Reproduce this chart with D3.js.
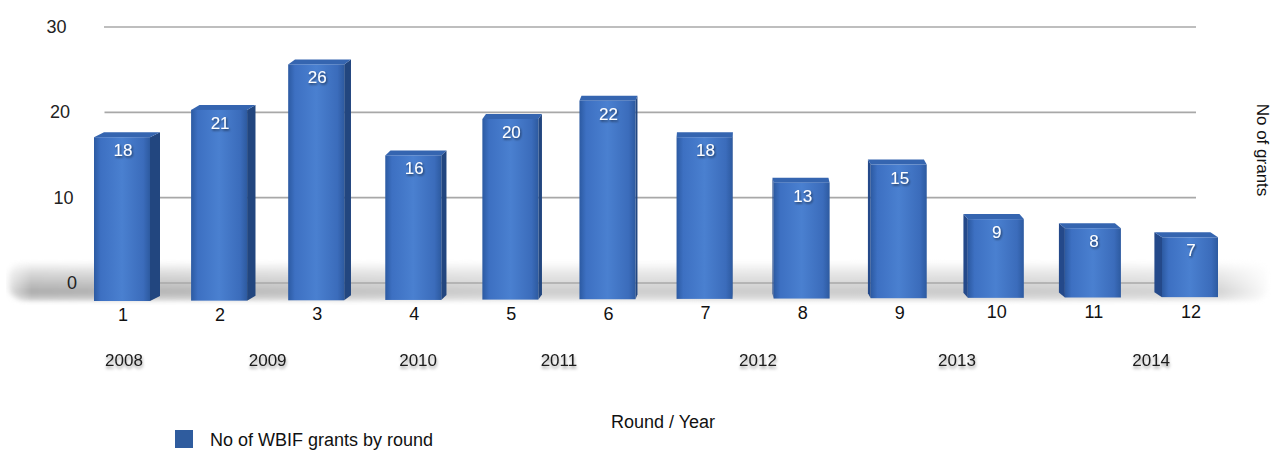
<!DOCTYPE html>
<html>
<head>
<meta charset="utf-8">
<script src="https://cdn.jsdelivr.net/npm/d3@7"></script>
<style>
  html, body { margin: 0; padding: 0; background: #fff; }
  svg { display: block; font-family: "Liberation Sans", Arial, sans-serif; }
</style>
</head>
<body>
<svg id="chart" width="1277" height="450"></svg>
<script>
// Grants awarded per funding round
const rounds = ["1", "2", "3", "4", "5", "6", "7", "8", "9", "10", "11", "12"];
const grants = [18, 21, 26, 16, 20, 22, 18, 13, 15, 9, 8, 7];
const years = ["2008", "2009", "2010", "2011", "2012", "2013", "2014"];
const yearAnchor = [1.02, 2.5, 4.05, 5.5, 7.55, 9.6, 11.6]; // position along the round axis
const yTicks = [0, 10, 20, 30];

const svg = d3.select("#chart");
const defs = svg.append("defs");

// Scales
const x = d3.scalePoint().domain(rounds).range([122, 1190]);
const xPos = d3.scaleLinear().domain([1, 12]).range([122, 1190]);
const yGrid = d3.scaleLinear().domain([0, 30]).range([283, 27]);
const yBar = d3.scaleLinear().domain([0, 30]).range([301, 28]);

// Gradients / filters
const faceGrad = defs.append("linearGradient").attr("id", "face").attr("x1", 0).attr("x2", 1);
faceGrad.append("stop").attr("offset", "0%").attr("stop-color", "#2c5aa2");
faceGrad.append("stop").attr("offset", "12%").attr("stop-color", "#3d70c2");
faceGrad.append("stop").attr("offset", "50%").attr("stop-color", "#4a80d0");
faceGrad.append("stop").attr("offset", "88%").attr("stop-color", "#3b6cbb");
faceGrad.append("stop").attr("offset", "100%").attr("stop-color", "#2d5aa0");

const txtShadow = defs.append("filter").attr("id", "txtShadow")
  .attr("x", "-20%").attr("y", "-30%").attr("width", "140%").attr("height", "160%");
txtShadow.append("feDropShadow").attr("dx", 1).attr("dy", 1.5)
  .attr("stdDeviation", 1).attr("flood-color", "#000").attr("flood-opacity", 0.55);

const softShadow = defs.append("filter").attr("id", "softShadow")
  .attr("x", "-20%").attr("y", "-40%").attr("width", "140%").attr("height", "200%");
softShadow.append("feDropShadow").attr("dx", 0.5).attr("dy", 2.5)
  .attr("stdDeviation", 1.6).attr("flood-color", "#000").attr("flood-opacity", 0.4);

// Floor shadow: darkens toward its lower edge, strongest on the left
const floorV = defs.append("linearGradient").attr("id", "floorV")
  .attr("x1", 0).attr("x2", 0).attr("y1", 0).attr("y2", 1);
floorV.append("stop").attr("offset", "0%").attr("stop-color", "#fff");
floorV.append("stop").attr("offset", "30%").attr("stop-color", "#d9d9d9");
floorV.append("stop").attr("offset", "78%").attr("stop-color", "#ababab");
floorV.append("stop").attr("offset", "100%").attr("stop-color", "#d6d6d6");

const floorH = defs.append("linearGradient").attr("id", "floorH").attr("x1", 0).attr("x2", 1);
floorH.append("stop").attr("offset", "0%").attr("stop-color", "#fff").attr("stop-opacity", 0.3);
floorH.append("stop").attr("offset", "2%").attr("stop-color", "#fff").attr("stop-opacity", 1);
floorH.append("stop").attr("offset", "12%").attr("stop-color", "#fff").attr("stop-opacity", 0.9);
floorH.append("stop").attr("offset", "40%").attr("stop-color", "#fff").attr("stop-opacity", 0.6);
floorH.append("stop").attr("offset", "80%").attr("stop-color", "#fff").attr("stop-opacity", 0.65);
floorH.append("stop").attr("offset", "96%").attr("stop-color", "#fff").attr("stop-opacity", 0.5);
floorH.append("stop").attr("offset", "100%").attr("stop-color", "#fff").attr("stop-opacity", 0);
const mask = defs.append("mask").attr("id", "floorMask");
mask.append("rect").attr("x", 6).attr("y", 250).attr("width", 1266).attr("height", 60)
  .attr("fill", "url(#floorH)");

const floorBlur = defs.append("filter").attr("id", "floorBlur")
  .attr("x", "-5%").attr("y", "-50%").attr("width", "110%").attr("height", "200%");
floorBlur.append("feGaussianBlur").attr("stdDeviation", "3 2");

svg.append("rect")
  .attr("x", 8).attr("y", 261).attr("width", 1262).attr("height", 40)
  .attr("rx", 16)
  .attr("fill", "url(#floorV)")
  .attr("mask", "url(#floorMask)")
  .attr("filter", "url(#floorBlur)");

// Grid lines
svg.append("g").selectAll("line").data(yTicks).join("line")
  .attr("x1", d => 104 + (30 - d) * 0.05)
  .attr("x2", 1196)
  .attr("y1", d => yGrid(d)).attr("y2", d => yGrid(d))
  .attr("stroke", "#a8a8a8").attr("stroke-width", 1.6);

// Value axis labels (left)
svg.append("g").selectAll("text").data(yTicks).join("text")
  .attr("x", d => 77 - d * 0.35)
  .attr("y", d => yGrid(d) + 6)
  .attr("text-anchor", "end")
  .attr("font-size", 18)
  .attr("fill", "#222")
  .text(d => d);

// 3D bars
const faceW = 56;
const depthY = 5;
const bars = svg.append("g").selectAll("g").data(rounds).join("g");

bars.each(function (r, i) {
  const g = d3.select(this);
  const v = grants[i];
  const cx = x(r);
  const x0 = cx - faceW / 2, x1 = cx + faceW / 2;
  const top = yBar(v), base = yBar(0) - i * 0.35;
  const dx = 10 - i * 1.6; // side face slides from right to left across the chart
  // side face
  if (dx > 0) {
    g.append("path")
      .attr("d", `M${x1},${top} L${x1 + dx},${top - depthY} L${x1 + dx},${base - depthY} L${x1},${base} Z`)
      .attr("fill", "#22467f");
  } else if (dx < 0) {
    g.append("path")
      .attr("d", `M${x0},${top} L${x0 + dx},${top - depthY} L${x0 + dx},${base - depthY} L${x0},${base} Z`)
      .attr("fill", "#24498a");
  }
  // top face
  g.append("path")
    .attr("d", `M${x0},${top} L${x0 + dx},${top - depthY} L${x1 + dx},${top - depthY} L${x1},${top} Z`)
    .attr("fill", "#3565b0");
  // front face
  g.append("rect")
    .attr("x", x0).attr("y", top)
    .attr("width", faceW).attr("height", base - top)
    .attr("fill", "url(#face)");
  // value label
  g.append("text")
    .attr("x", cx + 1)
    .attr("y", top + 19)
    .attr("text-anchor", "middle")
    .attr("font-size", 17)
    .attr("fill", "#fff")
    .attr("filter", "url(#txtShadow)")
    .text(v);
});

// Round labels
svg.append("g").selectAll("text").data(rounds).join("text")
  .attr("x", d => x(d) + 1)
  .attr("y", (d, i) => 321 - i * 0.3)
  .attr("text-anchor", "middle")
  .attr("font-size", 18)
  .attr("fill", "#111")
  .text(d => d);

// Year labels
svg.append("g").selectAll("text").data(years).join("text")
  .attr("x", (d, i) => xPos(yearAnchor[i]))
  .attr("y", 366)
  .attr("text-anchor", "middle")
  .attr("font-size", 17)
  .attr("fill", "#1a1a1a")
  .attr("filter", "url(#softShadow)")
  .text(d => d);

// Axis titles
svg.append("text")
  .attr("x", 663).attr("y", 428)
  .attr("text-anchor", "middle")
  .attr("font-size", 18)
  .attr("fill", "#111")
  .text("Round / Year");

svg.append("text")
  .attr("transform", "translate(1257,150) rotate(90)")
  .attr("text-anchor", "middle")
  .attr("font-size", 17)
  .attr("fill", "#111")
  .text("No of grants");

// Legend
svg.append("rect")
  .attr("x", 175).attr("y", 430).attr("width", 18).attr("height", 18)
  .attr("fill", "#2f5c9e");
svg.append("text")
  .attr("x", 210).attr("y", 446)
  .attr("font-size", 18)
  .attr("fill", "#111")
  .text("No of WBIF grants by round");
</script>
</body>
</html>
